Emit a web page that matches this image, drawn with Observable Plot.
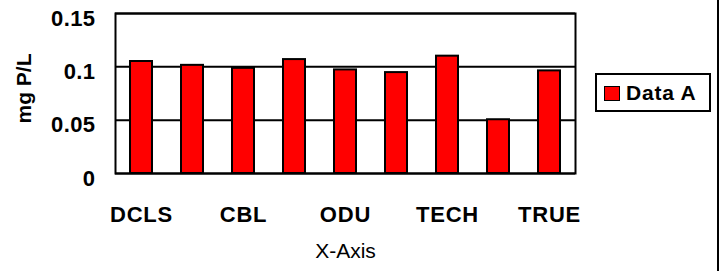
<!DOCTYPE html>
<html>
<head>
<meta charset="utf-8">
<script src="https://cdn.jsdelivr.net/npm/d3@7"></script>
<script src="https://cdn.jsdelivr.net/npm/@observablehq/plot@0.6"></script>
<style>
  html, body { margin: 0; padding: 0; background: #fff; }
  #wrap { position: relative; width: 725px; height: 271px; overflow: hidden; font-family: "Liberation Sans", Arial, sans-serif; }
  #legend { position: absolute; left: 595px; top: 73px; width: 116px; height: 39px; border: 2px solid #000; box-sizing: border-box; background: #fff; }
  #legend .sw { position: absolute; left: 7px; top: 11px; width: 16px; height: 15px; background: #ff0000; border: 1.5px solid #000; box-sizing: border-box; }
  #legend .tx { position: absolute; left: 29px; top: 6px; font-weight: bold; font-size: 21px; letter-spacing: 0.8px; line-height: 24px; color: #000; white-space: nowrap; }
  #rline { position: absolute; left: 717px; top: 0; width: 2px; height: 271px; background: #000; }
  svg g[aria-label="x-axis tick label"] text { letter-spacing: 0.8px; }
  svg g[aria-label="y-axis tick label"] text { letter-spacing: 0.4px; }
</style>
</head>
<body>
<div id="wrap"></div>
<script>
const labels = ["DCLS", "", "CBL", "", "ODU", "", "TECH", "", "TRUE"];
const values = [0.105, 0.1014, 0.0986, 0.1068, 0.0971, 0.0946, 0.110, 0.0504, 0.0962];
const yTicks = [0, 0.05, 0.1, 0.15];
const yTickLabels = ["0", "0.05", "0.1", "0.15"];
const seriesName = "Data A";
const xTitle = "X-Axis";
const yTitle = "mg P/L";

const data = values.map((v, i) => ({i, v}));

const chart = Plot.plot({
  width: 725,
  height: 271,
  marginLeft: 115,
  marginRight: 150,
  marginTop: 13,
  marginBottom: 98,
  style: {fontFamily: "'Liberation Sans', Arial, sans-serif", background: "#fff", color: "#000"},
  x: {domain: d3.range(labels.length), paddingInner: 0.57, paddingOuter: 0.285, align: 0.5},
  y: {domain: [0, 0.15]},
  marks: [
    Plot.gridY(yTicks, {stroke: "#000", strokeOpacity: 1, strokeWidth: 2}),
    Plot.barY(data, {x: "i", y: "v", fill: "#ff0000", stroke: "#000", strokeWidth: 2}),
    Plot.frame({stroke: "#000", strokeWidth: 2}),
    Plot.axisY(yTicks, {tickSize: 0, tickPadding: 20, label: null, fontSize: 22, fontWeight: "bold", dy: 5,
      tickFormat: d => yTickLabels[yTicks.indexOf(d)]}),
    Plot.axisX({tickSize: 0, tickPadding: 33, label: null, fontSize: 22, fontWeight: "bold",
      tickFormat: d => labels[d]}),
    Plot.text([xTitle], {frameAnchor: "bottom", dy: 84, fontSize: 21, text: d => d}),
    Plot.text([yTitle], {frameAnchor: "left", textAnchor: "middle", rotate: -90, dx: -91, dy: -5, fontSize: 21, fontWeight: "bold", text: d => d})
  ]
});

const wrap = document.getElementById("wrap");
wrap.appendChild(chart);
const legend = document.createElement("div");
legend.id = "legend";
legend.innerHTML = '<div class="sw"></div><div class="tx"></div>';
legend.querySelector(".tx").textContent = seriesName;
wrap.appendChild(legend);
const rl = document.createElement("div");
rl.id = "rline";
wrap.appendChild(rl);
</script>
</body>
</html>
